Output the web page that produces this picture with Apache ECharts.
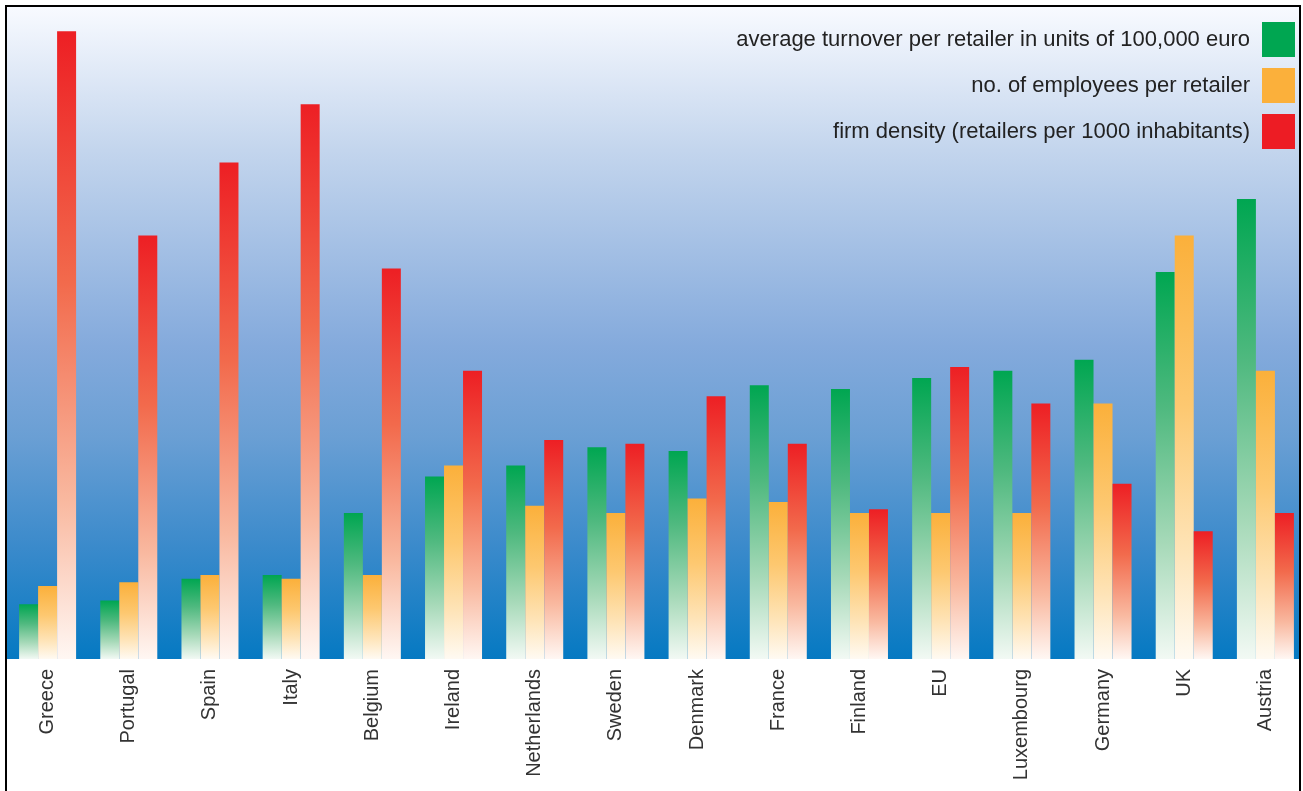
<!DOCTYPE html>
<html>
<head>
<meta charset="utf-8">
<script src="https://cdn.jsdelivr.net/npm/echarts@6/dist/echarts.min.js"></script>
<style>
  html, body { margin: 0; padding: 0; background: #ffffff; }
  #chart { width: 1303px; height: 791px; }
</style>
</head>
<body>
<div id="chart"></div>
<script>
// Retail structure by country
const countries = ['Greece', 'Portugal', 'Spain', 'Italy', 'Belgium', 'Ireland', 'Netherlands', 'Sweden',
  'Denmark', 'France', 'Finland', 'EU', 'Luxembourg', 'Germany', 'UK', 'Austria'];

const seriesNames = [
  'average turnover per retailer in units of 100,000 euro',
  'no. of employees per retailer',
  'firm density (retailers per 1000 inhabitants)'
];

const turnover  = [1.5, 1.6, 2.2, 2.3, 4.0, 5.0, 5.3, 5.8, 5.7, 7.5, 7.4, 7.7, 7.9, 8.2, 10.6, 12.6];
const employees = [2.0, 2.1, 2.3, 2.2, 2.3, 5.3, 4.2, 4.0, 4.4, 4.3, 4.0, 4.0, 4.0, 7.0, 11.6, 7.9];
const density   = [17.2, 11.6, 13.6, 15.2, 10.7, 7.9, 6.0, 5.9, 7.2, 5.9, 4.1, 8.0, 7.0, 4.8, 3.5, 4.0];

const FONT = '"Liberation Sans", Arial, sans-serif';

const chart = echarts.init(document.getElementById('chart'), null, { renderer: 'canvas' });

function fade(stops) {
  return new echarts.graphic.LinearGradient(0, 0, 0, 1,
    stops.map(s => ({ offset: s[0], color: s[1] })));
}

const fills = [
  fade([[0, '#00a651'], [0.35, '#4fb97f'], [0.7, '#a6d9b8'], [1, '#f2f9f4']]),
  fade([[0, '#fbb03b'], [0.4, '#fdc870'], [0.75, '#fee4b8'], [1, '#fffaf2']]),
  fade([[0, '#ed1f24'], [0.4, '#f26a4c'], [0.75, '#f9b9a0'], [1, '#fff7f3']])
];
const solid = ['#00a651', '#fbb03b', '#ed1c24'];
const values = [turnover, employees, density];

const option = {
  animation: false,
  backgroundColor: '#ffffff',
  graphic: [
    {
      type: 'rect',
      z: -10,
      silent: true,
      shape: { x: 7, y: 7, width: 1292, height: 652 },
      style: {
        fill: new echarts.graphic.LinearGradient(0, 0, 0, 1, [
          { offset: 0, color: '#f8faff' },
          { offset: 0.22, color: '#c3d5ed' },
          { offset: 0.52, color: '#84aadc' },
          { offset: 0.66, color: '#6a9fd4' },
          { offset: 0.83, color: '#3a8acb' },
          { offset: 1, color: '#0579c2' }
        ])
      }
    },
    {
      type: 'rect',
      z: 100,
      silent: true,
      shape: { x: 6, y: 6, width: 1294, height: 800 },
      style: { fill: 'none', stroke: '#000000', lineWidth: 2 }
    }
  ],
  legend: {
    orient: 'vertical',
    right: 8,
    top: 22,
    padding: 0,
    align: 'right',
    icon: 'rect',
    itemWidth: 33,
    itemHeight: 35,
    itemGap: 11,
    textStyle: { fontSize: 22, color: '#222222', fontFamily: FONT, padding: [0, 7, 0, 0] },
    data: seriesNames.map((n, i) => ({ name: n, itemStyle: { color: solid[i] } }))
  },
  grid: { left: 7, top: 2, width: 1299, height: 657, containLabel: false, outerBoundsMode: 'none' },
  xAxis: {
    type: 'category',
    data: countries,
    axisLine: { show: false },
    axisTick: { show: false },
    axisLabel: {
      interval: 0,
      rotate: 90,
      margin: 10,
      fontSize: 20,
      color: '#333333',
      fontFamily: FONT
    }
  },
  yAxis: {
    type: 'value',
    min: 0,
    max: 18,
    show: false,
    splitLine: { show: false }
  },
  series: seriesNames.map((n, i) => ({
    name: n,
    type: 'bar',
    barWidth: 19,
    barGap: '0%',
    data: values[i],
    itemStyle: { color: fills[i] }
  }))
};

chart.setOption(option);
</script>
</body>
</html>
